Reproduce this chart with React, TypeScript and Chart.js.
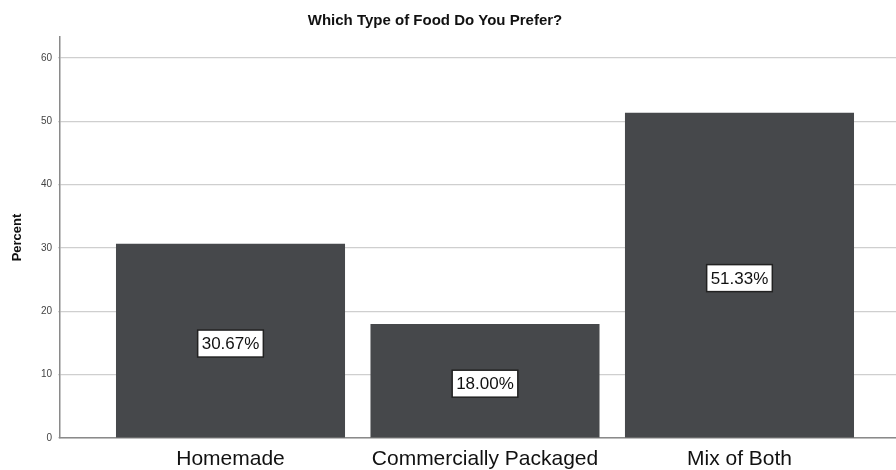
import React, { useEffect, useRef } from "react";
import { Chart, registerables } from "chart.js";

Chart.register(...registerables);

const chartTitle = "Which Type of Food Do You Prefer?";
const categories = ["Homemade", "Commercially Packaged", "Mix of Both"];
const percents = [30.67, 18.0, 51.33];
const yTicks = [0, 10, 20, 30, 40, 50, 60];

const FONT = "'Liberation Sans', Arial, Helvetica, sans-serif";

// Title centred above the plot, drawn directly on the canvas
const titlePlugin = {
  id: "foodTitle",
  afterDraw(chart: any) {
    const ctx = chart.ctx;
    ctx.save();
    ctx.font = `bold 15px ${FONT}`;
    ctx.fillStyle = "#111";
    ctx.textAlign = "center";
    ctx.textBaseline = "middle";
    ctx.fillText(chartTitle, 435, 21);
    ctx.restore();
  },
};

// Boxed percentage label in the middle of each bar
const valueLabelPlugin = {
  id: "valueLabels",
  afterDatasetsDraw(chart: any) {
    const ctx = chart.ctx;
    const meta = chart.getDatasetMeta(0);
    ctx.save();
    ctx.font = `17px ${FONT}`;
    ctx.textAlign = "center";
    ctx.textBaseline = "middle";
    meta.data.forEach((bar: any, i: number) => {
      const text = percents[i].toFixed(2) + "%";
      const cx = bar.x;
      const cy = (bar.y + bar.base) / 2 + 3;
      const w = ctx.measureText(text).width + 8;
      const h = 27;
      ctx.fillStyle = "#ffffff";
      ctx.fillRect(cx - w / 2, cy - h / 2, w, h);
      ctx.lineWidth = 1.5;
      ctx.strokeStyle = "#222";
      ctx.strokeRect(cx - w / 2, cy - h / 2, w, h);
      ctx.fillStyle = "#111";
      ctx.fillText(text, cx, cy + 1);
    });
    ctx.restore();
  },
};

export default function App() {
  const canvasRef = useRef<HTMLCanvasElement | null>(null);

  useEffect(() => {
    if (!canvasRef.current) return;
    const chart = new Chart(canvasRef.current, {
      type: "bar",
      data: {
        datasets: [
          {
            data: categories.map((_, i) => ({ x: i, y: percents[i] })),
            backgroundColor: "#46484b",
            borderWidth: 0,
            barPercentage: 0.9,
            categoryPercentage: 1,
          },
        ],
      },
      options: {
        animation: false,
        responsive: false,
        maintainAspectRatio: false,
        layout: { padding: { top: 37, right: 0, left: 0, bottom: 0 } },
        plugins: {
          legend: { display: false },
          title: { display: false },
          tooltip: { enabled: false },
        },
        scales: {
          x: {
            type: "linear",
            offset: false,
            min: -0.67,
            max: 2.615,
            afterBuildTicks: (scale: any) => {
              scale.ticks = categories.map((_, i) => ({ value: i }));
            },
            afterFit: (scale: any) => {
              scale.height = 32;
            },
            ticks: {
              autoSkip: false,
              maxRotation: 0,
              padding: 9,
              color: "#111",
              font: { family: FONT, size: 21 },
              callback: (v: any) => categories[v as number] ?? "",
            },
            grid: { display: false, drawTicks: false, offset: false },
            border: { display: true, color: "#8a8a8a", width: 1.5 },
          },
          y: {
            min: 0,
            max: 63.3,
            afterBuildTicks: (scale: any) => {
              scale.ticks = yTicks.map((v) => ({ value: v }));
            },
            afterFit: (scale: any) => {
              scale.width = 60;
            },
            ticks: {
              padding: 6,
              color: "#444",
              font: { family: FONT, size: 10 },
            },
            grid: {
              color: "#cfcfcf",
              lineWidth: 1.2,
              drawTicks: true,
              tickLength: 2,
            },
            border: { display: true, color: "#8a8a8a", width: 1.5 },
            title: {
              display: true,
              text: "Percent",
              color: "#111",
              font: { family: FONT, size: 13, weight: "bold" },
              padding: { top: 10, bottom: 0 },
            },
          },
        },
      },
      plugins: [titlePlugin, valueLabelPlugin],
    } as any);
    return () => chart.destroy();
  }, []);

  return (
    <div
      style={{
        position: "fixed",
        left: 0,
        top: 0,
        width: 896,
        height: 470,
        background: "#fff",
      }}
    >
      <canvas ref={canvasRef} width={896} height={470} style={{ display: "block" }} />
    </div>
  );
}
